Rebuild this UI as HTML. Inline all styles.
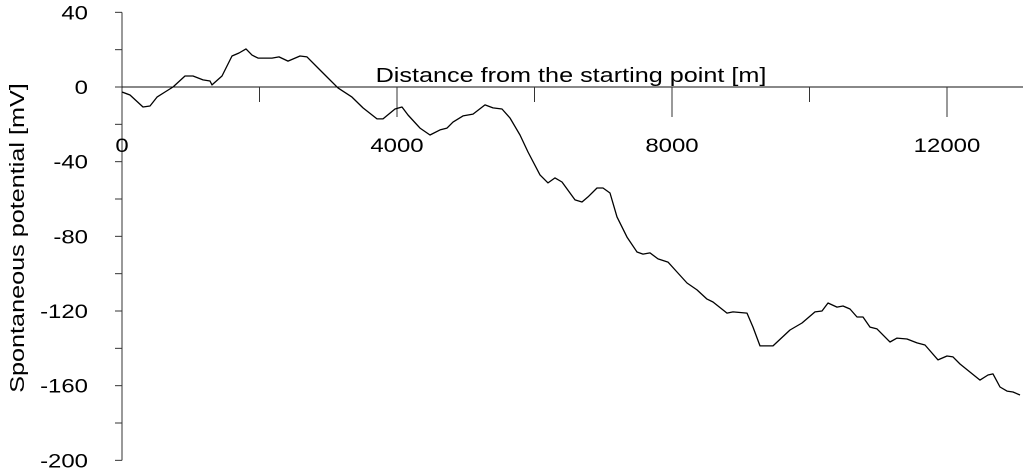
<!DOCTYPE html>
<html><head><meta charset="utf-8"><style>
html,body{margin:0;padding:0;background:#fff;}
svg{display:block;font-family:"Liberation Sans",Arial,sans-serif;}
</style></head><body>
<svg id="chart" width="1023" height="473"></svg>
<script>
const distances=[0,116,305,407,509,625,742,916,1033,1178,1280,1309,1455,1600,1702,1804,1891,1978,2182,2284,2415,2487,2589,2691,2851,2996,3142,3345,3505,3709,3796,3971,4073,4160,4335,4480,4625,4727,4815,4960,5105,5280,5396,5527,5644,5789,5905,6080,6196,6298,6400,6589,6691,6778,6909,6996,7098,7200,7345,7491,7578,7680,7796,7942,8073,8218,8364,8509,8596,8800,8887,9091,9178,9280,9469,9716,9891,10080,10182,10269,10400,10487,10589,10691,10778,10880,10982,11171,11273,11418,11564,11680,11869,12000,12087,12189,12480,12596,12669,12771,12873,12960,13062];
const potentials=[-2.7,-4.3,-10.7,-10.2,-5.4,-2.7,0,5.9,5.9,3.8,3.2,1.1,5.9,16.6,18.2,20.4,17.1,15.5,15.5,16.1,13.9,15.0,16.6,16.1,10.2,4.8,-0.5,-5.4,-11.2,-17.1,-17.1,-11.8,-10.7,-15.0,-22.0,-25.7,-23.0,-22.0,-18.8,-15.5,-14.5,-9.6,-11.2,-11.8,-16.6,-25.7,-34.8,-47.1,-51.4,-48.7,-50.9,-60.5,-61.6,-58.9,-54.1,-54.1,-56.8,-69.6,-80.4,-88.4,-89.5,-88.9,-92.1,-93.8,-99.1,-105.0,-108.7,-113.6,-115.2,-121.1,-120.5,-121.1,-128.6,-138.7,-138.7,-130.2,-126.4,-120.5,-120.0,-115.7,-117.9,-117.3,-118.9,-123.2,-123.2,-128.6,-129.6,-136.6,-134.5,-135.0,-137.1,-138.2,-146.2,-144.1,-144.6,-148.4,-157.0,-154.3,-153.7,-160.7,-162.9,-163.4,-165.0];
const yTickValues=[40,0,-40,-80,-120,-160,-200];
const yMinorValues=[20,-20,-60,-100,-140,-180];
const xTickValues=[0,4000,8000,12000];
const xMinorValues=[2000,6000,10000];

const NS="http://www.w3.org/2000/svg";
const svg=document.getElementById('chart');
const X=v=>122+v*0.06875;
const Y=v=>87-v*1.8667;
const STRETCH=1.26;
function mk(t,a){const e=document.createElementNS(NS,t);for(const k in a)e.setAttribute(k,a[k]);svg.appendChild(e);return e;}
function stretch(t){const w=t.getComputedTextLength();t.setAttribute('textLength',(w*STRETCH).toFixed(1));t.setAttribute('lengthAdjust','spacingAndGlyphs');}

let e=mk('line',{x1:122,y1:Y(40),x2:122,y2:Y(-200),stroke:'#333','stroke-width':1});


e=mk('line',{x1:122,y1:87,x2:1023,y2:87,stroke:'#111','stroke-width':1});



yTickValues.concat(yMinorValues).forEach(v=>{
  const t=mk('line',{x1:115,y1:Y(v),x2:122,y2:Y(v),stroke:'#333','stroke-width':1});
  
  
});
yTickValues.forEach(v=>{
  const t=mk('text',{x:88,y:Y(v)+7,'text-anchor':'end','font-size':19,fill:'#000'});
  t.textContent=v;
  
  
  stretch(t);
});
xTickValues.forEach(v=>{
  if(v>0){const t=mk('line',{x1:X(v),y1:87,x2:X(v),y2:117,stroke:'#333','stroke-width':1});
  
  }
  const l=mk('text',{x:X(v),y:152,'text-anchor':'middle','font-size':19,fill:'#000'});
  l.textContent=v;
  
  
  stretch(l);
});
xMinorValues.forEach(v=>{
  const t=mk('line',{x1:X(v),y1:87,x2:X(v),y2:102,stroke:'#333','stroke-width':1});
  
  
});
e=mk('text',{x:571,y:82,'text-anchor':'middle','font-size':20,fill:'#000'});
e.textContent='Distance from the starting point [m]';


stretch(e);
e=mk('text',{x:0,y:0,'text-anchor':'middle','font-size':20,fill:'#000',transform:'translate(24,238) rotate(-90)'});
e.textContent='Spontaneous potential [mV]';


stretch(e);

const d=distances.map((v,i)=>(i?'L':'M')+X(v).toFixed(1)+','+Y(potentials[i]).toFixed(1)).join(' ');
e=mk('path',{d:d,fill:'none',stroke:'#000','stroke-width':1.3,'stroke-linejoin':'round'});


</script>
</body></html>
